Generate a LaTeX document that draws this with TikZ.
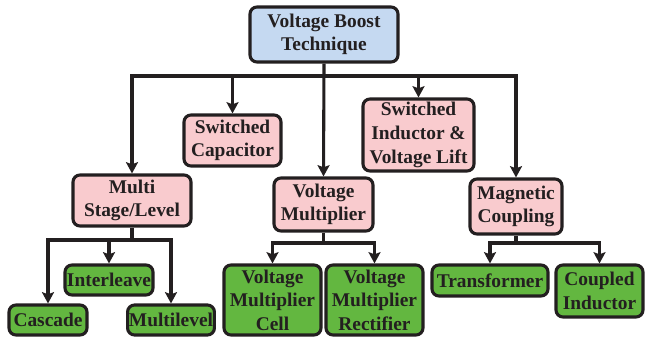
\documentclass[tikz,border=0pt]{standalone}
\usepackage{fontspec}
\setmainfont{Liberation Serif}
\usetikzlibrary{arrows.meta}
\definecolor{boxline}{RGB}{35,31,32}
\definecolor{rootblue}{RGB}{197,217,241}
\definecolor{catpink}{RGB}{249,203,206}
\definecolor{leafgreen}{RGB}{99,183,64}

\begin{document}
\begin{tikzpicture}[x=0.025cm, y=-0.025cm, >={Stealth[length=8pt,width=8.5pt,inset=1.5pt]},
    box/.style={draw=boxline, line width=2.2pt, rounded corners=5pt, align=center,
        inner sep=1pt, text=boxline, font=\fontsize{13.8}{16.8}\selectfont\bfseries},
    rootbox/.style={box, fill=rootblue},
    pinkbox/.style={box, fill=catpink},
    greenbox/.style={box, fill=leafgreen},
    link/.style={draw=boxline, line width=2.2pt}]
        \useasboundingbox (0,0) rectangle (646,341);
        % Gốc
        \node[rootbox, minimum width=3.7cm, minimum height=1.375cm] (root) at (324,34.5) {Voltage Boost\\Technique};
        % Hàng thứ hai
        \node[pinkbox, minimum width=2.425cm, minimum height=1.275cm] (swcap) at (232.5,140.5) {Switched\\Capacitor};
        \node[pinkbox, minimum width=2.775cm, minimum height=1.8cm] (swind) at (418.5,135) {Switched\\Inductor \&\\Voltage Lift};
        \node[pinkbox, minimum width=2.95cm, minimum height=1.275cm] (multi) at (132,200.5) {Multi\\Stage/Level};
        \node[pinkbox, minimum width=2.475cm, minimum height=1.325cm] (vmult) at (323.5,204.5) {Voltage\\Multiplier};
        \node[pinkbox, minimum width=2.3cm, minimum height=1.375cm] (magc) at (516,206.5) {Magnetic\\Coupling};
        % Hàng lá
        \node[greenbox, minimum width=2.2cm, minimum height=0.75cm] (inter) at (109,280) {Interleave};
        \node[greenbox, minimum width=1.95cm, minimum height=0.75cm] (casc) at (48,320) {Cascade};
        \node[greenbox, minimum width=2.15cm, minimum height=0.75cm] (mlev) at (171,320) {Multilevel};
        \node[greenbox, minimum width=2.425cm, minimum height=1.75cm] (vmcell) at (272.5,300) {Voltage\\Multiplier\\Cell};
        \node[greenbox, minimum width=2.425cm, minimum height=1.75cm] (vmrect) at (374.5,300) {Voltage\\Multiplier\\Rectifier};
        \node[greenbox, minimum width=2.9cm, minimum height=0.775cm] (trans) at (490,280.5) {Transformer};
        \node[greenbox, minimum width=2.175cm, minimum height=1.3cm] (coupind) at (599.5,291) {Coupled\\Inductor};
        % Các điểm rẽ
        \coordinate (busR) at (324,76);
        \coordinate (busM) at (132,240);
        \coordinate (busV) at (323.5,243);
        \coordinate (busC) at (516,243);
        % Mũi tên từ gốc
        \draw[link, ->] (root.south) -- (vmult.north);
        \draw[link, ->] (busR) -| (multi.north);
        \draw[link, ->] (busR) -| (swcap.north);
        \draw[link, ->] (busR) -| (swind.north);
        \draw[link, ->] (busR) -| (magc.north);
        % Mũi tên Multi Stage/Level
        \draw[link] (multi.south) -- (busM);
        \draw[link, ->] (busM) -| (casc.north);
        \draw[link, ->] (busM) -| (inter.north);
        \draw[link, ->] (busM) -| (mlev.north);
        % Mũi tên Voltage Multiplier
        \draw[link] (vmult.south) -- (busV);
        \draw[link, ->] (busV) -| (vmcell.north);
        \draw[link, ->] (busV) -| (vmrect.north);
        % Mũi tên Magnetic Coupling
        \draw[link] (magc.south) -- (busC);
        \draw[link, ->] (busC) -| (trans.north);
        \draw[link, ->] (busC) -| (coupind.north);
\end{tikzpicture}
\end{document}
